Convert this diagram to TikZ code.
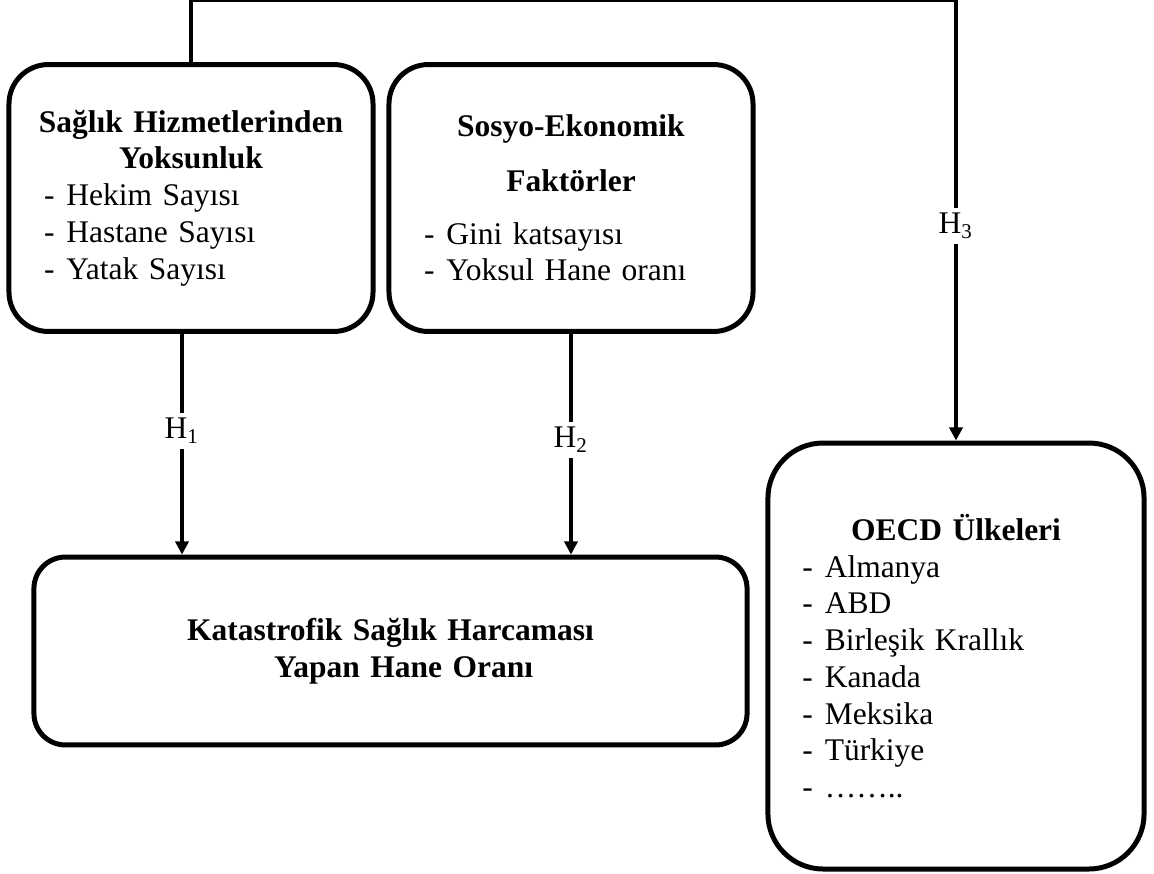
\documentclass[tikz,border=0pt]{standalone}
\usepackage{fontspec}
\setmainfont{Liberation Serif}
\usetikzlibrary{arrows.meta}

\newcommand{\madde}[1]{\makebox[\hsize][l]{\hspace{3pt}\makebox[8.5pt][l]{-}#1}}

\begin{document}
\begin{tikzpicture}
  [
    x = 0.381pt, y = -0.381pt,
    kutu/.style = {draw, line width = 1.9pt, align = center, inner xsep = 10pt,
        font = \fontsize{12}{14}\selectfont},
    ok/.style = {-{Triangle[length = 5pt, width = 5pt]}, line width = 1.6pt},
    etiket/.style = {fill = white, inner xsep = 1pt, inner ysep = 2pt,
        font = \fontsize{12}{14}\selectfont},
  ]
  \useasboundingbox (0,0) rectangle (1154,873);

  \node (hizmet) [kutu, rounded corners = 15pt, minimum width = 138.7pt,
      minimum height = 101.7pt, text width = 118pt] at (191,198)
    {\textbf{Sağlık Hizmetlerinden}\\
      \textbf{Yoksunluk}\\
      \madde{Hekim Sayısı}\\
      \madde{Hastane Sayısı}\\
      \madde{Yatak Sayısı}};

  \node (sosyo) [kutu, rounded corners = 15pt, minimum width = 138.7pt,
      minimum height = 101.7pt, text width = 118pt] at (571,198)
    {\textbf{Sosyo-Ekonomik}\\[7pt]
      \textbf{Faktörler}\\[6pt]
      \madde{Gini katsayısı}\\
      \madde{Yoksul Hane oranı}};

  \node (katas) [kutu, rounded corners = 12pt, minimum width = 271.7pt,
      minimum height = 71.6pt, text width = 250pt] at (390.5,651)
    {\textbf{Katastrofik Sağlık Harcaması}\\
      \hspace*{10pt}\textbf{Yapan Hane Oranı}};

  \node (oecd) [kutu, rounded corners = 21pt, minimum width = 143.3pt,
      minimum height = 162.3pt, text width = 123pt] at (956,656)
    {\textbf{OECD Ülkeleri}\\
      \madde{Almanya}\\
      \madde{ABD}\\
      \madde{Birleşik Krallık}\\
      \madde{Kanada}\\
      \madde{Meksika}\\
      \madde{Türkiye}\\
      \madde{……..}};

  \coordinate (h1x) at (182,0);

  \draw [ok] (hizmet.south -| h1x) --
    node [etiket, pos = 0.44] {H\textsubscript{1}} (katas.north -| h1x);
  \draw [ok] (sosyo.south) --
    node [etiket, pos = 0.48] {H\textsubscript{2}} (sosyo.south |- katas.north);
  \draw [ok] (hizmet.north) -- ++(0,-62) -|
    node [etiket, pos = 0.756] {H\textsubscript{3}} (oecd.north);

\end{tikzpicture}
\end{document}
